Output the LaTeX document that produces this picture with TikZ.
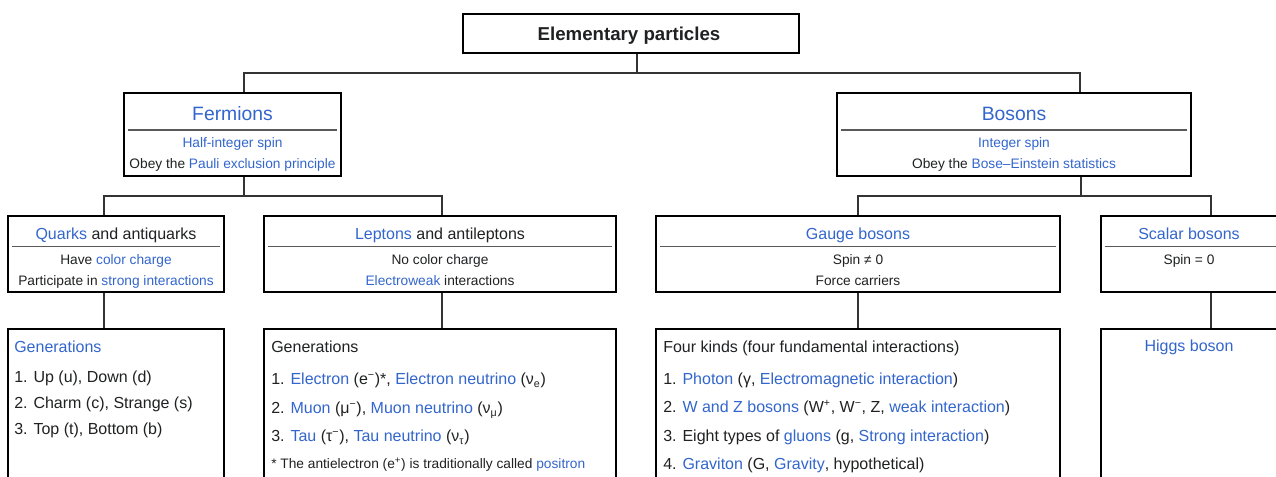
\documentclass[tikz,border=0pt]{standalone}
\usepackage{fontspec}
\setmainfont{Liberation Sans}
\usepackage{tikz}
\usetikzlibrary{positioning}
\definecolor{wiki}{HTML}{3366CC}
\definecolor{ink}{HTML}{202122}
\newcommand{\wl}[1]{\textcolor{wiki}{#1}}
\tikzset{
        box/.style 2 args={draw, line width=1.5pt, fill=white, minimum width=#1*0.75pt, minimum height=#2*0.75pt, inner sep=0pt}, % table cell
        wire/.style={line width=0.8pt, black!80},
        divider/.style={line width=1.1pt, black!65},
        label/.style={inner sep=0pt, text height=0.716em, text depth=0pt, text=ink, yshift=-1.5pt},
        toptext/.style={label, font=\fontsize{14}{16}\selectfont\bfseries},
        bigtext/.style={label, font=\fontsize{14.5}{17}\selectfont, text=wiki},
        midtext/.style={label, font=\fontsize{12}{14}\selectfont},
        smalltext/.style={label, font=\fontsize{10.3}{12}\selectfont},
        listtext/.style={label, font=\fontsize{12}{14}\selectfont, anchor=west},
        notetext/.style={label, font=\fontsize{10.3}{12}\selectfont, anchor=west},
    }

\begin{document}
\begin{tikzpicture}[x=0.75pt, y=-0.75pt]
    \useasboundingbox (0,0) rectangle (1276,476);
    \clip (0,0) rectangle (1276,476);

    % boxes
    \node[box={336.5}{38.5}] (top) at (631,33.5) {};
    \node[box={217}{82.5}] (ferm) at (232.5,134.5) {};
    \node[box={353.5}{82.5}] (bos) at (1014,134.5) {};
    \node[box={216}{76}] (quark) at (116,254) {};
    \node[box={352}{76}] (lepton) at (440,254) {};
    \node[box={404}{76}] (gauge) at (858,254) {};
    \node[box={178}{76}] (scalar) at (1190,254) {};
    \node[box={216}{171.5}] (quarkgen) at (116,414.25) {};
    \node[box={352}{171.5}] (leptongen) at (440,414.25) {};
    \node[box={404}{171.5}] (gaugegen) at (858,414.25) {};
    \node[box={178}{171.5}] (higgs) at (1190,414.25) {};

    % branch points
    \coordinate (t0) at (637,73);
    \coordinate (tl) at (244,73);
    \coordinate (tr) at (1080,73);
    \coordinate (f0) at (244,196);
    \coordinate (fl) at (104,196);
    \coordinate (fr) at (442,196);
    \coordinate (b0) at (1081,196);
    \coordinate (bl) at (858,196);
    \coordinate (br) at (1211,196);

    \draw[wire] (top.south -| t0) -- (t0);
    \draw[wire] (ferm.north -| tl) -- (tl) -- (tr) -- (bos.north -| tr);
    \draw[wire] (ferm.south -| f0) -- (f0);
    \draw[wire] (quark.north -| fl) -- (fl) -- (fr) -- (lepton.north -| fr);
    \draw[wire] (bos.south -| b0) -- (b0);
    \draw[wire] (gauge.north -| bl) -- (bl) -- (br) -- (scalar.north -| br);
    \draw[wire] (quark.south -| fl) -- (quarkgen.north -| fl);
    \draw[wire] (lepton.south -| fr) -- (leptongen.north -| fr);
    \draw[wire] (gauge.south -| bl) -- (gaugegen.north -| bl);
    \draw[wire] (scalar.south -| br) -- (higgs.north -| br);

    % header texts
    \node[toptext] (topT) at (629,34) {Elementary particles};

    \node[bigtext] (fermT) at (232.5,113.5) {Fermions};
    \draw[divider] ([xshift=3.5pt]ferm.west |- 0,130) -- ([xshift=-3.5pt]ferm.east |- 0,130);
    \node[smalltext] (ferm1) at (232.5,141) {\wl{Half-integer spin}};
    \node[smalltext] (ferm2) at (232.5,161.5) {Obey the \wl{Pauli exclusion principle}};

    \node[bigtext] (bosT) at (1014,113.5) {Bosons};
    \draw[divider] ([xshift=3.5pt]bos.west |- 0,130) -- ([xshift=-3.5pt]bos.east |- 0,130);
    \node[smalltext] (bos1) at (1014,141) {\wl{Integer spin}};
    \node[smalltext] (bos2) at (1014,161.5) {Obey the \wl{Bose–Einstein statistics}};

    \node[midtext] (quarkT) at (116,232.5) {\wl{Quarks} and antiquarks};
    \draw[divider] ([xshift=3.5pt]quark.west |- 0,246.5) -- ([xshift=-3.5pt]quark.east |- 0,246.5);
    \node[smalltext] (quark1) at (116,257.5) {Have \wl{color charge}};
    \node[smalltext] (quark2) at (116,278.5) {Participate in \wl{strong interactions}};

    \node[midtext] (leptonT) at (440,232.5) {\wl{Leptons} and antileptons};
    \draw[divider] ([xshift=3.5pt]lepton.west |- 0,246.5) -- ([xshift=-3.5pt]lepton.east |- 0,246.5);
    \node[smalltext] (lepton1) at (440,257.5) {No color charge};
    \node[smalltext] (lepton2) at (440,278.5) {\wl{Electroweak} interactions};

    \node[midtext] (gaugeT) at (858,232.5) {\wl{Gauge bosons}};
    \draw[divider] ([xshift=3.5pt]gauge.west |- 0,246.5) -- ([xshift=-3.5pt]gauge.east |- 0,246.5);
    \node[smalltext] (gauge1) at (858,257.5) {Spin ≠ 0};
    \node[smalltext] (gauge2) at (858,278.5) {Force carriers};

    \node[midtext] (scalarT) at (1189,232.5) {\wl{Scalar bosons}};
    \draw[divider] ([xshift=3.5pt]scalar.west |- 0,246.5) -- (1276,246.5);
    \node[smalltext] (scalar1) at (1189,257.5) {Spin = 0};

    % lists
    \node[listtext] (qg0) at (14,346) {\wl{Generations}};
    \node[listtext] (qg1) at (14,376) {1. Up (u), Down (d)};
    \node[listtext] (qg2) at (14,402) {2. Charm (c), Strange (s)};
    \node[listtext] (qg3) at (14,428) {3. Top (t), Bottom (b)};

    \node[listtext] (lg0) at (271,346) {Generations};
    \node[listtext] (lg1) at (271,378) {1. \wl{Electron} (e\textsuperscript{−})*, \wl{Electron neutrino} (ν\textsubscript{e})};
    \node[listtext] (lg2) at (271,407) {2. \wl{Muon} (μ\textsuperscript{−}), \wl{Muon neutrino} (ν\textsubscript{μ})};
    \node[listtext] (lg3) at (271,435) {3. \wl{Tau} (τ\textsuperscript{−}), \wl{Tau neutrino} (ν\textsubscript{τ})};
    \node[notetext] (lg4) at (271,462) {* The antielectron (e\textsuperscript{+}) is traditionally called \wl{positron}};

    \node[listtext] (gg0) at (663,346) {Four kinds (four fundamental interactions)};
    \node[listtext] (gg1) at (663,378) {1. \wl{Photon} (γ, \wl{Electromagnetic interaction})};
    \node[listtext] (gg2) at (663,406) {2. \wl{W and Z bosons} (W\textsuperscript{+}, W\textsuperscript{−}, Z, \wl{weak interaction})};
    \node[listtext] (gg3) at (663,435) {3. Eight types of \wl{gluons} (g, \wl{Strong interaction})};
    \node[listtext] (gg4) at (663,463) {4. \wl{Graviton} (G, \wl{Gravity}, hypothetical)};

    \node[midtext] (hg0) at (1189,344.5) {\wl{Higgs boson}};
\end{tikzpicture}
\end{document}
